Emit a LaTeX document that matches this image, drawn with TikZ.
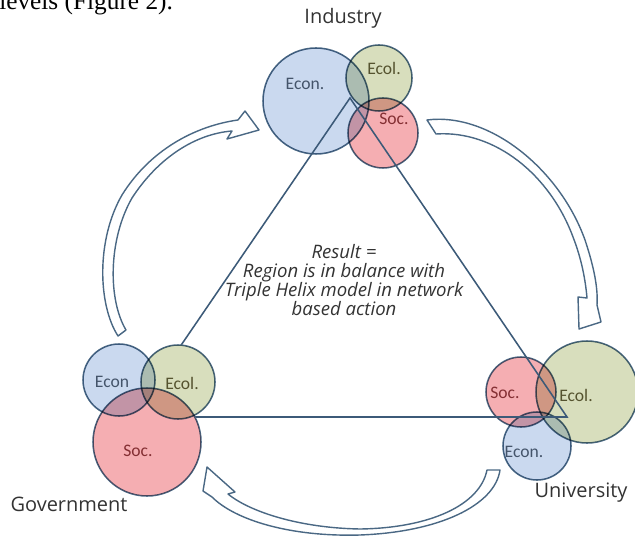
\documentclass[tikz,border=0pt]{standalone}
\usepackage{fontspec}
\setmainfont{Liberation Serif}
\newfontfamily\actorfont{Open Sans}
\newfontfamily\ringfont{Carlito}
\usetikzlibrary{positioning}

\definecolor{ringline}{HTML}{4A6884}
\definecolor{edgeline}{HTML}{3C5A78}
\definecolor{econfill}{HTML}{CAD9EF}
\definecolor{ecolfill}{HTML}{D8DEBD}
\definecolor{socfill}{HTML}{F5AEB2}
\definecolor{econtext}{HTML}{44546A}
\definecolor{ecoltext}{HTML}{55532F}
\definecolor{soctext}{HTML}{842F33}
\definecolor{bodytext}{HTML}{333333}

\tikzset{
  ring/.style={draw=ringline,line width=1.1pt},
  econ/.style={ring,fill=econfill},
  ecol/.style={ring,fill=ecolfill},
  soc/.style={ring,fill=socfill},
  ringtext/.style={font=\ringfont\fontsize{12.5}{14}\selectfont,inner sep=0pt},
  econtxt/.style={ringtext,text=econtext},
  ecoltxt/.style={ringtext,text=ecoltext},
  soctxt/.style={ringtext,text=soctext},
  actor/.style={font=\actorfont\fontsize{14.2}{17}\selectfont,text=bodytext,inner sep=0pt},
  edge/.style={draw=edgeline,line width=1.1pt},
  swoosh/.style={draw=ringline,fill=white,line width=1pt,line join=round},
}

\begin{document}
\begin{tikzpicture}[x=0.025cm,y=-0.025cm]
  \useasboundingbox (0,0) rectangle (635,536);

  % running text of the page above the figure
  \node[anchor=base west,inner sep=0pt,font=\fontsize{18}{20}\selectfont] (pagetext) at (-1,10) {levels (Figure 2).};

  % corners of the triangle
  \coordinate (ind) at (350,98);
  \coordinate (gov) at (132,417);
  \coordinate (uni) at (567,417);

  % industry
  \begin{scope}[blend group=multiply]
    \draw[econ] (316,101) circle[radius=53];
    \draw[ecol] (379,78) circle[radius=33];
    \draw[soc]  (383,133) circle[radius=35];
  \end{scope}
  \node[econtxt] (indEcon) at (305,84) {Econ.};
  \node[ecoltxt] (indEcol) at (384,68) {Ecol.};
  \node[soctxt]  (indSoc)  at (394,119) {Soc.};

  % university
  \begin{scope}[blend group=multiply]
    \draw[ecol] (587,392) circle[radius=51];
    \draw[soc]  (521,392) circle[radius=35];
    \draw[econ] (537,446) circle[radius=34];
  \end{scope}
  \node[soctxt]  (uniSoc)  at (505,393) {Soc.};
  \node[ecoltxt] (uniEcol) at (576,395) {Ecol.};
  \node[econtxt] (uniEcon) at (524,452) {Econ.};

  \draw[edge] (ind) -- (gov) -- (uni) -- cycle;

  % government
  \begin{scope}[blend group=multiply]
    \draw[econ] (119,380) circle[radius=36];
    \draw[ecol] (178,382) circle[radius=37];
    \draw[soc]  (147,442) circle[radius=54];
  \end{scope}
  \node[econtxt] (govEcon) at (112,382) {Econ};
  \node[ecoltxt] (govEcol) at (182,383) {Ecol.};
  \node[soctxt]  (govSoc)  at (138,451) {Soc.};

  % the three curved arrows
  \draw[swoosh] (118,336) .. controls (98,305) and (96,240) .. (122,195)
    .. controls (150,150) and (195,126) .. (238,120) -- (245,111) -- (259,130)
    -- (227,139) -- (232,131) .. controls (195,134) and (158,158) .. (132,198)
    .. controls (108,240) and (108,300) .. (126,330) -- cycle;
  \draw[swoosh] (427,120) .. controls (490,112) and (560,170) .. (585,240)
    .. controls (595,270) and (598,290) .. (597,305) -- (601,322) -- (579,329)
    -- (578,297) -- (587,298) .. controls (585,275) and (580,255) .. (573,237)
    .. controls (550,175) and (495,130) .. (436,134) -- cycle;
  \draw[swoosh] (500,470) .. controls (495,505) and (440,532) .. (360,535)
    .. controls (290,537) and (235,520) .. (212,497) -- (203,491) -- (207,467)
    -- (235,492) -- (228,494) .. controls (250,512) and (300,528) .. (360,529)
    .. controls (430,528) and (480,505) .. (487,470) -- cycle;

  % actors
  \node[actor,anchor=base] (industry)   at (343,24)  {Industry};
  \node[actor,anchor=base] (government) at (69,511)  {Government};
  \node[actor,anchor=base] (university) at (581,497) {University};

  \node[align=center,text=bodytext,font=\actorfont\itshape\fontsize{13.2}{13.6}\selectfont] (result) at (344,280)
    {Result =\\Region is in balance with\\Triple Helix model in network\\based action};
\end{tikzpicture}
\end{document}
